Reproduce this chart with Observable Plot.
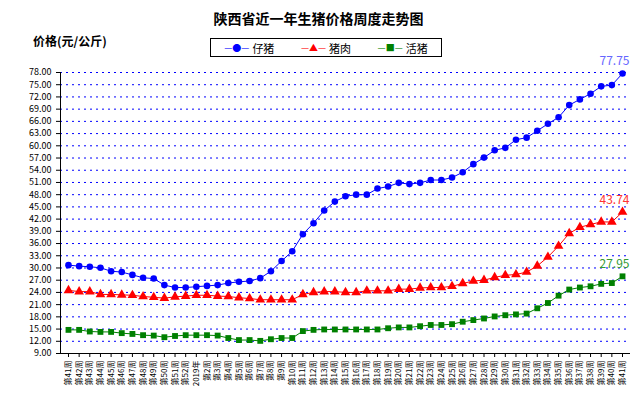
<!DOCTYPE html>
<html><head><meta charset="utf-8">
<script src="https://cdn.jsdelivr.net/npm/d3@7"></script>
<script src="https://cdn.jsdelivr.net/npm/@observablehq/plot@0.6"></script>
<style>
body{margin:0;background:#fff;font-family:"Noto Sans CJK SC",sans-serif}
#wrap{position:relative;width:637px;height:404px}
#title{position:absolute;left:0;width:637px;top:8px;text-align:center;font-size:14px;font-weight:bold}
#ylab{position:absolute;left:33px;top:32px;font-size:12px;font-weight:bold}
#legend{position:absolute;left:210px;top:38px;width:230px;height:17px;border:1px solid #000;background:#fff;font-size:11px;display:flex;align-items:center;justify-content:space-around}
#legend span{display:inline-flex;align-items:center;gap:3px}
</style></head><body>
<div id="wrap"><div id="chart"></div>
<div id="title">陕西省近一年生猪价格周度走势图</div>
<div id="ylab">价格(元/公斤)</div>
<div id="legend"></div></div>
<script>
const weeks = ["第41周","第42周","第43周","第44周","第45周","第46周","第47周","第48周","第49周","第50周","第51周","第52周","2019年"]
  .concat(Array.from({length:40},(_,i)=>"第"+(i+2)+"周"));
const piglet = [30.7,30.45,30.3,30.05,29.2,29.0,28.3,27.6,27.4,25.8,25.2,25.2,25.4,25.6,25.8,26.3,26.6,26.8,27.5,29.2,31.7,34.1,38.3,41.0,44.1,46.3,
  47.6,48.0,48.0,49.5,50.0,50.9,50.6,50.9,51.6,51.6,52.2,53.5,55.5,57.1,58.9,59.5,61.5,62.0,63.7,65.4,67.0,70.0,71.4,72.8,74.6,74.9,77.75];
const pork = [24.5,24.2,24.2,23.5,23.5,23.4,23.3,23.0,22.8,22.6,22.9,23.1,23.3,23.3,23.1,23.0,22.7,22.5,22.2,22.2,22.2,22.2,23.5,24.0,24.2,24.2,
  24.0,24.0,24.4,24.4,24.4,24.8,24.8,25.1,25.2,25.2,25.5,26.2,26.8,27.0,27.7,28.2,28.4,29.0,30.5,32.7,35.4,38.5,40.0,40.7,41.3,41.3,43.74];
const hog = [14.8,14.8,14.4,14.3,14.3,14.0,13.8,13.5,13.4,13.0,13.3,13.5,13.5,13.5,13.4,12.8,12.3,12.3,12.1,12.5,12.8,12.8,14.5,14.8,14.9,14.9,
  14.9,14.9,14.9,14.9,15.2,15.4,15.4,15.7,16.0,16.0,16.2,16.8,17.2,17.6,18.1,18.4,18.6,18.8,20.1,21.4,23.2,24.7,25.2,25.5,26.1,26.3,27.95];
const seriesNames = ["仔猪","猪肉","活猪"];
const colors = ["#0000ff","#ff0000","#008000"];
const labelColors = ["#6666ff","#ff3333","#339933"];
const symbols = ["circle","triangle","square"];
const yTicks = d3.range(9,78.01,3);

const all = [piglet,pork,hog];
const data = [];
all.forEach((arr,s)=>arr.forEach((v,i)=>data.push({i,v,s:seriesNames[s]})));
const last = all.map((arr,s)=>({i:arr.length-1,v:arr[arr.length-1],s:seriesNames[s],c:labelColors[s]}));

const marks = [
  Plot.ruleY(yTicks.slice(1),{stroke:"#0000ff",strokeDasharray:"2,4",strokeWidth:1}),
  Plot.ruleX([-0.75],{stroke:"#000"}),
  Plot.ruleY([9],{stroke:"#000"}),
  Plot.axisY({ticks:yTicks,tickFormat:d=>d.toFixed(2),tickSize:4,fontSize:9,label:null}),
  Plot.axisX({ticks:d3.range(53),tickFormat:i=>weeks[i],tickRotate:-90,tickSize:4,fontSize:8,label:null,textAnchor:"end",tickPadding:3})
];
seriesNames.forEach((name,s)=>{
  const d = data.filter(r=>r.s===name);
  marks.push(Plot.line(d,{x:"i",y:"v",stroke:colors[s],strokeWidth:1}));
  marks.push(Plot.dot(d,{x:"i",y:"v",fill:colors[s],symbol:symbols[s],r:s===1?3.6:3.3,stroke:"none"}));
});
marks.push(Plot.text(last,{x:"i",y:"v",text:d=>d.v.toFixed(2),fill:"c",dy:-12,dx:-8,fontSize:12}));

const chart = Plot.plot({
  width:637,height:404,marginLeft:60,marginRight:7,marginTop:72,marginBottom:51,
  style:{fontFamily:"'Noto Sans CJK SC',sans-serif",color:"#000",background:"#fff"},
  x:{type:"linear",domain:[-0.75,52.75]},
  y:{domain:[9,78]},
  marks
});
document.getElementById("chart").appendChild(chart);

const lg = document.getElementById("legend");
const sym = ["●","▲","■"];
seriesNames.forEach((n,s)=>{
  const sp=document.createElement("span");
  sp.innerHTML=`<span style="color:${colors[s]};font-size:9px">—${sym[s]}—</span>${n}`;
  lg.appendChild(sp);
});
</script></body></html>
